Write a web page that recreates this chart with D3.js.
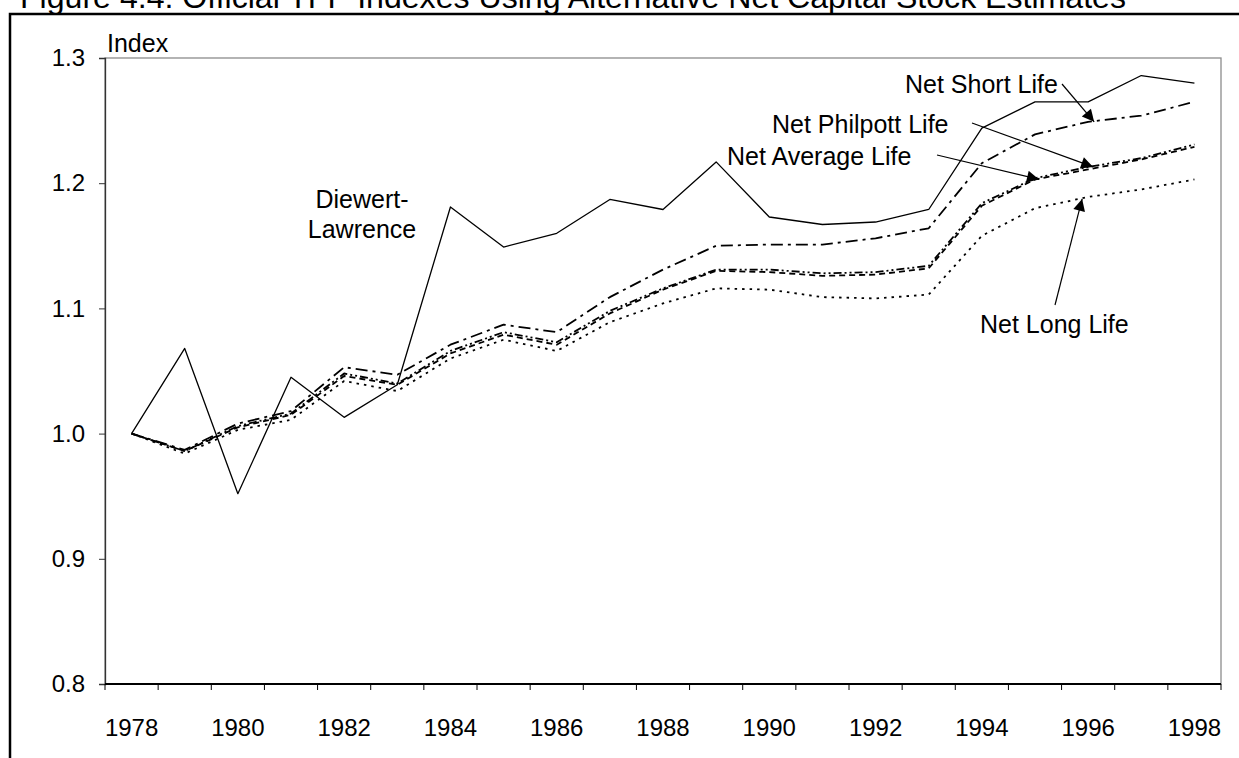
<!DOCTYPE html>
<html lang="en">
    <head>
        <meta charset="utf-8">
        <title>Official TFP Indexes</title>
        <script type="text/javascript" src="https://d3js.org/d3.v7.min.js"></script>
        <style>
            body { margin: 0; background: #fff; }
            text { font-family: Arial, "Liberation Sans", sans-serif; fill: #000; }
        </style>
    </head>
    <body>
        <script type="text/javascript">

            var w = 1239,
                h = 758;

            // data
            var years = [1978, 1979, 1980, 1981, 1982, 1983, 1984, 1985, 1986, 1987, 1988,
                         1989, 1990, 1991, 1992, 1993, 1994, 1995, 1996, 1997, 1998];
            var yearLabels = [1978, 1980, 1982, 1984, 1986, 1988, 1990, 1992, 1994, 1996, 1998];
            var yTicks = [0.8, 0.9, 1.0, 1.1, 1.2, 1.3];

            var diewertLawrence = [1.000, 1.068, 0.952, 1.045, 1.013, 1.039, 1.181, 1.149, 1.160, 1.187, 1.179,
                                   1.217, 1.173, 1.167, 1.169, 1.179, 1.244, 1.265, 1.265, 1.286, 1.280];
            var netShort = [1.000, 0.987, 1.008, 1.018, 1.053, 1.047, 1.071, 1.087, 1.081, 1.109, 1.131,
                            1.150, 1.151, 1.151, 1.156, 1.164, 1.216, 1.239, 1.249, 1.254, 1.265];
            var netPhilpott = [1.000, 0.986, 1.006, 1.016, 1.048, 1.040, 1.066, 1.081, 1.073, 1.098, 1.116,
                               1.131, 1.131, 1.128, 1.129, 1.134, 1.184, 1.204, 1.213, 1.220, 1.231];
            var netAverage = [1.000, 0.986, 1.005, 1.015, 1.046, 1.039, 1.064, 1.079, 1.071, 1.096, 1.115,
                              1.130, 1.129, 1.126, 1.127, 1.132, 1.182, 1.203, 1.211, 1.219, 1.229];
            var netLong = [1.000, 0.984, 1.003, 1.011, 1.042, 1.034, 1.060, 1.075, 1.066, 1.089, 1.104,
                           1.116, 1.115, 1.109, 1.108, 1.111, 1.158, 1.180, 1.189, 1.195, 1.203];

            var series = [
                {name: "Diewert-Lawrence", values: diewertLawrence, dash: null, width: 1.3},
                {name: "Net Short Life", values: netShort, dash: "12,5,3,5", width: 1.8},
                {name: "Net Philpott Life", values: netPhilpott, dash: "8,3,2,3,2,3", width: 1.8},
                {name: "Net Average Life", values: netAverage, dash: "6,4", width: 1.8},
                {name: "Net Long Life", values: netLong, dash: "2.5,5", width: 1.8}
            ];

            var plot = {left: 105, right: 1221, top: 58, bottom: 684};

            var x = d3.scaleBand()
                        .domain(years)
                        .range([plot.left, plot.right]);

            var y = d3.scaleLinear()
                        .domain([0.8, 1.3])
                        .range([plot.bottom, plot.top]);

            function cx(yr) { return x(yr) + x.bandwidth() / 2; }

            var svg = d3.select("body")
                        .append("svg")
                        .attr("width", w)
                        .attr("height", h);

            // title, its top is cut off by the page edge as in the source scan
            svg.append("text")
                .attr("x", 20)
                .attr("y", 8)
                .attr("font-size", 31)
                .attr("textLength", 1106)
                .attr("lengthAdjust", "spacingAndGlyphs")
                .text("Figure 4.4: Official TFP Indexes Using Alternative Net Capital Stock Estimates");

            // outer frame
            svg.append("rect")
                .attr("x", 10).attr("y", 14)
                .attr("width", w + 20).attr("height", h + 20)
                .attr("fill", "none")
                .attr("stroke", "#000")
                .attr("stroke-width", 2.5);

            // plot area border
            svg.append("rect")
                .attr("x", plot.left).attr("y", plot.top)
                .attr("width", plot.right - plot.left)
                .attr("height", plot.bottom - plot.top)
                .attr("fill", "none")
                .attr("stroke", "#8c8c8c")
                .attr("stroke-width", 1.3);

            // y axis
            var yAxis = svg.append("g")
                        .attr("transform", "translate(" + plot.left + ",0)")
                        .call(d3.axisLeft(y)
                                .tickValues(yTicks)
                                .tickFormat(d3.format(".1f"))
                                .tickSize(6)
                                .tickPadding(14));
            yAxis.select(".domain").attr("stroke", "#333").attr("stroke-width", 1.3);
            yAxis.selectAll(".tick line").attr("stroke", "#333");
            yAxis.selectAll(".tick text")
                .attr("font-size", 24)
                .attr("font-family", "Arial, 'Liberation Sans', sans-serif")
                .attr("fill", "#000");

            svg.append("text")
                .attr("x", 107)
                .attr("y", 52)
                .attr("font-size", 25)
                .text("Index");

            // x axis: ticks at category boundaries, labels every second year
            svg.append("line")
                .attr("x1", plot.left).attr("x2", plot.right)
                .attr("y1", plot.bottom).attr("y2", plot.bottom)
                .attr("stroke", "#000")
                .attr("stroke-width", 1.8);

            var bounds = years.map(function(d) { return x(d); }).concat([plot.right]);
            svg.selectAll(".xtick")
                .data(bounds)
                .enter()
                .append("line")
                .attr("class", "xtick")
                .attr("x1", function(d) { return d; })
                .attr("x2", function(d) { return d; })
                .attr("y1", plot.bottom)
                .attr("y2", plot.bottom + 6)
                .attr("stroke", "#000")
                .attr("stroke-width", 1);

            svg.selectAll(".xlabel")
                .data(yearLabels)
                .enter()
                .append("text")
                .attr("class", "xlabel")
                .attr("x", function(d) { return cx(d); })
                .attr("y", 736)
                .attr("text-anchor", "middle")
                .attr("font-size", 24)
                .text(function(d) { return d; });

            // lines
            var line = d3.line()
                        .x(function(d, i) { return cx(years[i]); })
                        .y(function(d) { return y(d); });

            svg.selectAll(".series")
                .data(series)
                .enter()
                .append("path")
                .attr("class", "series")
                .attr("d", function(d) { return line(d.values); })
                .attr("fill", "none")
                .attr("stroke", "#000")
                .attr("stroke-width", function(d) { return d.width; })
                .attr("stroke-dasharray", function(d) { return d.dash; })
                .attr("stroke-linejoin", "round");

            // annotations
            svg.append("defs")
                .append("marker")
                .attr("id", "arrow")
                .attr("viewBox", "0 0 10 10")
                .attr("refX", 10).attr("refY", 5)
                .attr("markerWidth", 14).attr("markerHeight", 12)
                .attr("markerUnits", "userSpaceOnUse")
                .attr("orient", "auto")
                .append("path")
                .attr("d", "M0,0 L10,5 L0,10 Z")
                .attr("fill", "#000");

            var dl = svg.append("text")
                        .attr("text-anchor", "middle")
                        .attr("font-size", 25);
            dl.append("tspan").attr("x", 362).attr("y", 208).text("Diewert-");
            dl.append("tspan").attr("x", 362).attr("y", 238).text("Lawrence");

            function yi(yr) { return years.indexOf(yr); }

            var notes = [
                {text: "Net Short Life", tx: 905, ty: 93, from: [1062, 84],
                 to: [cx(1996) + 6, y(netShort[yi(1996)])]},
                {text: "Net Philpott Life", tx: 772, ty: 133, from: [972, 123],
                 to: [cx(1996) + 5, y(netPhilpott[yi(1996)])]},
                {text: "Net Average Life", tx: 727, ty: 165, from: [937, 155],
                 to: [cx(1995) + 4, y(netAverage[yi(1995)])]},
                {text: "Net Long Life", tx: 980, ty: 333, from: [1055, 305],
                 to: [cx(1996) - 6, y(netLong[yi(1996)]) + 2]}
            ];

            svg.selectAll(".note")
                .data(notes)
                .enter()
                .append("text")
                .attr("class", "note")
                .attr("x", function(d) { return d.tx; })
                .attr("y", function(d) { return d.ty; })
                .attr("font-size", 25)
                .text(function(d) { return d.text; });

            svg.selectAll(".pointer")
                .data(notes)
                .enter()
                .append("line")
                .attr("class", "pointer")
                .attr("x1", function(d) { return d.from[0]; })
                .attr("y1", function(d) { return d.from[1]; })
                .attr("x2", function(d) { return d.to[0]; })
                .attr("y2", function(d) { return d.to[1]; })
                .attr("stroke", "#000")
                .attr("stroke-width", 1.2)
                .attr("marker-end", "url(#arrow)");

        </script>
    </body>
</html>
